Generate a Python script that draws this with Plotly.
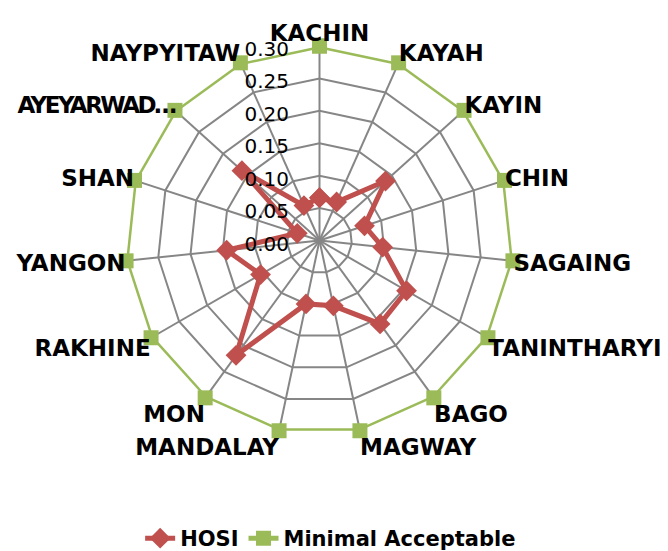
import plotly.graph_objects as go

regions = ["KACHIN", "KAYAH", "KAYIN", "CHIN", "SAGAING", "TANINTHARYI", "BAGO",
           "MAGWAY", "MANDALAY", "MON", "RAKHINE", "YANGON", "SHAN",
           "AYEYARWAD…", "NAYPYITAW"]
hosi = [0.066, 0.065, 0.137, 0.073, 0.098, 0.155, 0.159,
        0.103, 0.100, 0.219, 0.105, 0.144, 0.036, 0.161, 0.059]
minimal = [0.30] * 15
tick_vals = [0.00, 0.05, 0.10, 0.15, 0.20, 0.25, 0.30]

def closed(v):
    return list(v) + [v[0]]

# tighter letter spacing for the long truncated label, as in the reference
tick_text = [("<span style='letter-spacing:-2.5px'>" + r + "</span>") if r.startswith("AYEY") else r
             for r in regions]

fig = go.Figure()
fig.add_trace(go.Scatterpolar(
    r=closed(hosi), theta=closed(regions), name="HOSI", mode="lines+markers",
    line=dict(color="#C0504D", width=5),
    marker=dict(symbol="diamond", size=16, color="#C0504D"),
))
fig.add_trace(go.Scatterpolar(
    r=closed(minimal), theta=closed(regions), name="Minimal Acceptable", mode="lines+markers",
    line=dict(color="#9BBB59", width=5),
    marker=dict(symbol="square", size=15, color="#9BBB59"),
))

cx, cy, R = 311.5, 232.5, 194.5
W, H = 668, 551
fig.update_layout(
    width=W, height=H,
    margin=dict(l=0, r=0, t=0, b=0),
    paper_bgcolor="white",
    font=dict(family="DejaVu Sans", color="black"),
    polar=dict(
        domain=dict(x=[(cx - R) / W, (cx + R) / W], y=[(H - cy - R) / H, (H - cy + R) / H]),
        bgcolor="white",
        gridshape="linear",
        radialaxis=dict(
            range=[0, 0.30], tickvals=tick_vals, tickformat=".2f",
            angle=90, side="counterclockwise", showline=False,
            ticks="outside", ticklen=12, tickcolor="rgba(0,0,0,0)",
            gridcolor="#868686", gridwidth=2,
            tickfont=dict(family="DejaVu Sans", size=20, color="black"),
        ),
        angularaxis=dict(
            direction="clockwise", rotation=90, showline=False, ticks="",
            tickvals=regions, ticktext=tick_text,
            gridcolor="#868686", gridwidth=2,
            tickfont=dict(family="DejaVu Sans", size=23, color="black", weight="bold"),
        ),
    ),
    legend=dict(
        orientation="h", x=0.483, xanchor="center", y=0.0, yanchor="bottom",
        font=dict(family="DejaVu Sans", size=21, color="black", weight="bold"),
    ),
)

fig.write_html("out.html")
